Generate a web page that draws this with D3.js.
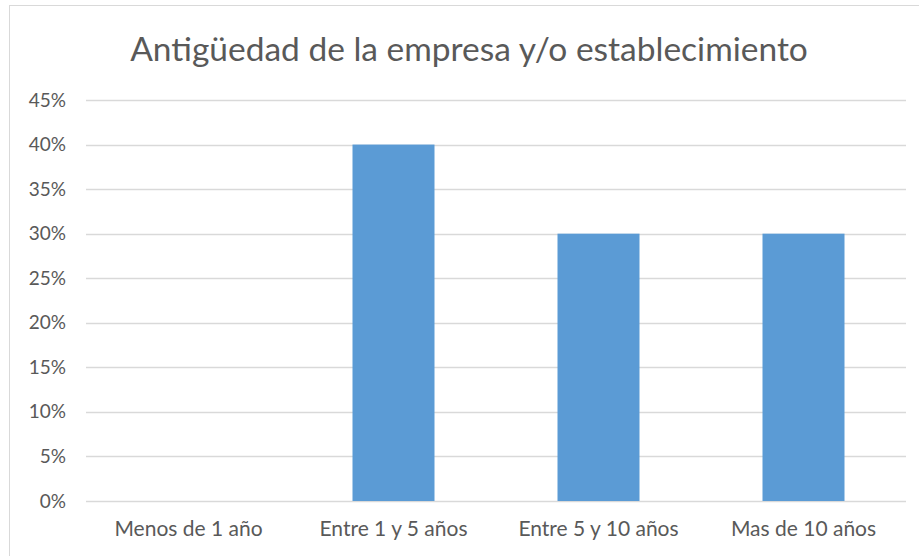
<!DOCTYPE html>
<html>
<head>
<meta charset="utf-8">
<script src="https://cdn.jsdelivr.net/npm/d3@7"></script>
<style>
  body { margin: 0; background: #fff; }
  text { font-family: Lato, "Open Sans", sans-serif; fill: #595959; }
</style>
</head>
<body>
<div class="container"></div>
<script>
var w = 919;
var h = 556;

var titleText = "Antigüedad de la empresa y/o establecimiento";
var categories = ["Menos de 1 año", "Entre 1 y 5 años", "Entre 5 y 10 años", "Mas de 10 años"];
var values = [0, 0.40, 0.30, 0.30];
var yTicks = [0, 0.05, 0.10, 0.15, 0.20, 0.25, 0.30, 0.35, 0.40, 0.45];

var svg = d3.select(".container")
  .append("svg")
  .attr("width", w)
  .attr("height", h);

// chart frame
svg.append("rect")
  .attr("x", 9.5)
  .attr("y", 5.5)
  .attr("width", 930)
  .attr("height", 570)
  .attr("fill", "none")
  .attr("stroke", "#d9d9d9");

var plotLeft = 86, plotRight = 906, plotTop = 100, plotBottom = 501;

var x = d3.scaleBand()
  .domain(categories)
  .range([plotLeft, plotRight])
  .paddingInner(0.6)
  .paddingOuter(0.3);

var y = d3.scaleLinear()
  .domain([0, 0.45])
  .range([plotBottom, plotTop]);

// gridlines
svg.append("g")
  .selectAll("line")
  .data(yTicks)
  .enter()
  .append("line")
  .attr("x1", plotLeft)
  .attr("x2", plotRight)
  .attr("y1", d => Math.round(y(d)) + 0.5)
  .attr("y2", d => Math.round(y(d)) + 0.5)
  .attr("stroke", "#d9d9d9")
  .attr("stroke-width", 1.5);

// bars
svg.append("g")
  .selectAll("rect")
  .data(values)
  .enter()
  .append("rect")
  .attr("x", (d, i) => x(categories[i]))
  .attr("width", x.bandwidth())
  .attr("y", d => y(d))
  .attr("height", d => plotBottom - y(d))
  .attr("fill", "#5b9bd5");

// y axis
var yAxis = svg.append("g")
  .attr("transform", "translate(" + (plotLeft - 20) + ",0)")
  .call(d3.axisLeft(y).tickValues(yTicks).tickFormat(d3.format(".0%")).tickSize(0).tickPadding(0));
yAxis.select(".domain").remove();
yAxis.selectAll("text")
  .style("font-size", "19px")
  .attr("fill", "#595959");

// x axis
var xAxis = svg.append("g")
  .attr("transform", "translate(0," + plotBottom + ")")
  .call(d3.axisBottom(x).tickSize(0).tickPadding(20));
xAxis.select(".domain").remove();
xAxis.selectAll("text")
  .style("font-size", "21px")
  .attr("fill", "#595959");

// title
svg.append("text")
  .attr("x", 469)
  .attr("y", 61)
  .attr("text-anchor", "middle")
  .style("font-size", "33.5px")
  .text(titleText);
</script>
</body>
</html>
